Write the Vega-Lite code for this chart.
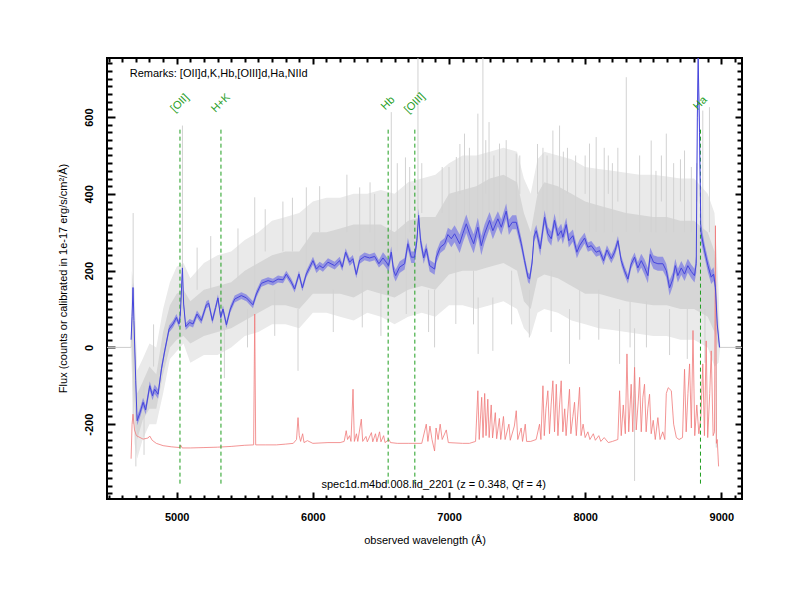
{
  "$schema": "https://vega.github.io/schema/vega-lite/v6.json",
  "width": 635,
  "height": 441,
  "autosize": {"type": "none"},
  "padding": {"left": 107, "top": 58, "right": 58, "bottom": 101},
  "background": "white",
  "config": {
    "font": "Liberation Sans",
    "view": {"stroke": "black", "strokeWidth": 2},
    "axis": {"domain": false, "grid": false, "zindex": 1, "ticks": true, "tickColor": "black", "tickWidth": 2, "tickOpacity": 1, "labelColor": "black", "titleColor": "black", "labelFont": "Liberation Sans", "titleFont": "Liberation Sans", "labelFlush": false, "labelOverlap": false}
  },
  "datasets": {
    "blue": [
      {"wl": 4665, "flux": 20, "err": 10}, {"wl": 4672, "flux": 80, "err": 12}, {"wl": 4679, "flux": 156, "err": 12},
      {"wl": 4686, "flux": 70, "err": 12}, {"wl": 4699, "flux": -87, "err": 12}, {"wl": 4709, "flux": -191, "err": 12},
      {"wl": 4728, "flux": -173, "err": 12}, {"wl": 4753, "flux": -143, "err": 12}, {"wl": 4772, "flux": -163, "err": 12},
      {"wl": 4802, "flux": -100, "err": 12}, {"wl": 4822, "flux": -126, "err": 12}, {"wl": 4838, "flux": -109, "err": 12},
      {"wl": 4863, "flux": -122, "err": 12}, {"wl": 4888, "flux": -56, "err": 10}, {"wl": 4912, "flux": -9, "err": 9},
      {"wl": 4944, "flux": 48, "err": 9}, {"wl": 4973, "flux": 61, "err": 9}, {"wl": 4998, "flux": 78, "err": 9},
      {"wl": 5017, "flux": 61, "err": 9}, {"wl": 5027, "flux": 87, "err": 9}, {"wl": 5042, "flux": 207, "err": 11},
      {"wl": 5051, "flux": 113, "err": 9}, {"wl": 5066, "flux": 54, "err": 9}, {"wl": 5095, "flux": 65, "err": 9},
      {"wl": 5120, "flux": 61, "err": 9}, {"wl": 5149, "flux": 87, "err": 9}, {"wl": 5181, "flux": 70, "err": 9},
      {"wl": 5218, "flux": 111, "err": 9}, {"wl": 5235, "flux": 115, "err": 9}, {"wl": 5262, "flux": 70, "err": 9},
      {"wl": 5286, "flux": 104, "err": 9}, {"wl": 5303, "flux": 129, "err": 9}, {"wl": 5323, "flux": 78, "err": 9},
      {"wl": 5340, "flux": 100, "err": 9}, {"wl": 5365, "flux": 59, "err": 9}, {"wl": 5394, "flux": 100, "err": 9},
      {"wl": 5426, "flux": 126, "err": 9}, {"wl": 5475, "flux": 135, "err": 9}, {"wl": 5512, "flux": 129, "err": 9},
      {"wl": 5560, "flux": 111, "err": 9}, {"wl": 5585, "flux": 139, "err": 9}, {"wl": 5622, "flux": 167, "err": 9},
      {"wl": 5671, "flux": 174, "err": 9}, {"wl": 5707, "flux": 170, "err": 9}, {"wl": 5744, "flux": 178, "err": 9},
      {"wl": 5781, "flux": 176, "err": 9}, {"wl": 5805, "flux": 191, "err": 9}, {"wl": 5842, "flux": 170, "err": 9},
      {"wl": 5866, "flux": 152, "err": 9}, {"wl": 5898, "flux": 191, "err": 9}, {"wl": 5923, "flux": 155, "err": 9},
      {"wl": 5952, "flux": 191, "err": 9}, {"wl": 6001, "flux": 226, "err": 10}, {"wl": 6026, "flux": 204, "err": 10},
      {"wl": 6050, "flux": 213, "err": 10}, {"wl": 6074, "flux": 207, "err": 10}, {"wl": 6111, "flux": 222, "err": 10},
      {"wl": 6160, "flux": 213, "err": 10}, {"wl": 6197, "flux": 226, "err": 10}, {"wl": 6216, "flux": 209, "err": 10},
      {"wl": 6241, "flux": 248, "err": 10}, {"wl": 6270, "flux": 222, "err": 10}, {"wl": 6294, "flux": 231, "err": 10},
      {"wl": 6319, "flux": 190, "err": 10}, {"wl": 6344, "flux": 228, "err": 10}, {"wl": 6380, "flux": 237, "err": 10},
      {"wl": 6417, "flux": 233, "err": 10}, {"wl": 6454, "flux": 237, "err": 10}, {"wl": 6485, "flux": 218, "err": 10},
      {"wl": 6515, "flux": 233, "err": 15}, {"wl": 6539, "flux": 222, "err": 15}, {"wl": 6556, "flux": 213, "err": 15},
      {"wl": 6576, "flux": 248, "err": 15}, {"wl": 6593, "flux": 200, "err": 15}, {"wl": 6608, "flux": 187, "err": 15},
      {"wl": 6637, "flux": 209, "err": 15}, {"wl": 6674, "flux": 218, "err": 15}, {"wl": 6698, "flux": 270, "err": 15},
      {"wl": 6723, "flux": 235, "err": 15}, {"wl": 6747, "flux": 235, "err": 15}, {"wl": 6764, "flux": 278, "err": 15},
      {"wl": 6777, "flux": 344, "err": 17}, {"wl": 6791, "flux": 278, "err": 15}, {"wl": 6814, "flux": 233, "err": 15},
      {"wl": 6833, "flux": 257, "err": 15}, {"wl": 6858, "flux": 213, "err": 15}, {"wl": 6894, "flux": 204, "err": 15},
      {"wl": 6907, "flux": 235, "err": 15}, {"wl": 6936, "flux": 261, "err": 15}, {"wl": 6968, "flux": 270, "err": 15},
      {"wl": 6992, "flux": 294, "err": 18}, {"wl": 7017, "flux": 283, "err": 22}, {"wl": 7041, "flux": 296, "err": 22},
      {"wl": 7078, "flux": 270, "err": 24}, {"wl": 7102, "flux": 297, "err": 24}, {"wl": 7127, "flux": 322, "err": 24},
      {"wl": 7151, "flux": 296, "err": 24}, {"wl": 7181, "flux": 270, "err": 25}, {"wl": 7212, "flux": 313, "err": 25},
      {"wl": 7237, "flux": 265, "err": 25}, {"wl": 7261, "flux": 296, "err": 24}, {"wl": 7298, "flux": 331, "err": 22},
      {"wl": 7322, "flux": 304, "err": 22}, {"wl": 7359, "flux": 335, "err": 20}, {"wl": 7384, "flux": 313, "err": 20},
      {"wl": 7420, "flux": 355, "err": 20}, {"wl": 7440, "flux": 313, "err": 20}, {"wl": 7465, "flux": 326, "err": 18},
      {"wl": 7494, "flux": 326, "err": 18}, {"wl": 7531, "flux": 270, "err": 15}, {"wl": 7555, "flux": 226, "err": 13},
      {"wl": 7580, "flux": 183, "err": 13}, {"wl": 7592, "flux": 178, "err": 13}, {"wl": 7610, "flux": 220, "err": 13},
      {"wl": 7625, "flux": 290, "err": 14}, {"wl": 7641, "flux": 304, "err": 15}, {"wl": 7670, "flux": 257, "err": 18},
      {"wl": 7702, "flux": 339, "err": 18}, {"wl": 7726, "flux": 296, "err": 18}, {"wl": 7751, "flux": 283, "err": 18},
      {"wl": 7775, "flux": 331, "err": 18}, {"wl": 7800, "flux": 291, "err": 18}, {"wl": 7824, "flux": 304, "err": 18},
      {"wl": 7836, "flux": 287, "err": 18}, {"wl": 7861, "flux": 320, "err": 18}, {"wl": 7880, "flux": 278, "err": 18},
      {"wl": 7910, "flux": 291, "err": 16}, {"wl": 7939, "flux": 248, "err": 16}, {"wl": 7959, "flux": 265, "err": 16},
      {"wl": 7996, "flux": 285, "err": 14}, {"wl": 8020, "flux": 261, "err": 12}, {"wl": 8045, "flux": 265, "err": 12},
      {"wl": 8081, "flux": 248, "err": 12}, {"wl": 8106, "flux": 252, "err": 12}, {"wl": 8135, "flux": 226, "err": 12},
      {"wl": 8160, "flux": 254, "err": 12}, {"wl": 8192, "flux": 231, "err": 12}, {"wl": 8216, "flux": 248, "err": 12},
      {"wl": 8241, "flux": 278, "err": 12}, {"wl": 8265, "flux": 226, "err": 12}, {"wl": 8289, "flux": 200, "err": 12},
      {"wl": 8314, "flux": 178, "err": 12}, {"wl": 8338, "flux": 217, "err": 12}, {"wl": 8363, "flux": 235, "err": 12},
      {"wl": 8387, "flux": 207, "err": 15}, {"wl": 8412, "flux": 226, "err": 18}, {"wl": 8436, "flux": 209, "err": 20},
      {"wl": 8461, "flux": 187, "err": 20}, {"wl": 8478, "flux": 242, "err": 18}, {"wl": 8502, "flux": 222, "err": 18},
      {"wl": 8534, "flux": 218, "err": 18}, {"wl": 8571, "flux": 218, "err": 18}, {"wl": 8596, "flux": 200, "err": 18},
      {"wl": 8620, "flux": 155, "err": 20}, {"wl": 8644, "flux": 178, "err": 18}, {"wl": 8662, "flux": 213, "err": 18},
      {"wl": 8681, "flux": 187, "err": 18}, {"wl": 8706, "flux": 207, "err": 18}, {"wl": 8730, "flux": 191, "err": 18},
      {"wl": 8754, "flux": 213, "err": 18}, {"wl": 8779, "flux": 198, "err": 18}, {"wl": 8803, "flux": 187, "err": 18},
      {"wl": 8816, "flux": 218, "err": 24}, {"wl": 8824, "flux": 600, "err": 60}, {"wl": 8830, "flux": 800, "err": 70},
      {"wl": 8840, "flux": 560, "err": 60}, {"wl": 8850, "flux": 300, "err": 24}, {"wl": 8877, "flux": 252, "err": 18},
      {"wl": 8902, "flux": 213, "err": 18}, {"wl": 8926, "flux": 183, "err": 18}, {"wl": 8943, "flux": 191, "err": 18},
      {"wl": 8957, "flux": 157, "err": 18}, {"wl": 8970, "flux": 61, "err": 10}, {"wl": 8987, "flux": 0, "err": 4}
    ],
    "grey": [
      {"wl": 4662, "o1": 0, "c1": 0, "c2": 0, "o2": 0},
      {"wl": 4670, "o1": -60, "c1": 0, "c2": 100, "o2": 200},
      {"wl": 4690, "o1": -250, "c1": -150, "c2": 50, "o2": 150},
      {"wl": 4710, "o1": -290, "c1": -240, "c2": -120, "o2": -60},
      {"wl": 4750, "o1": -240, "c1": -190, "c2": -90, "o2": -30},
      {"wl": 4800, "o1": -200, "c1": -160, "c2": -50, "o2": 10},
      {"wl": 4850, "o1": -200, "c1": -160, "c2": -70, "o2": 0},
      {"wl": 4900, "o1": -120, "c1": -70, "c2": 40, "o2": 100},
      {"wl": 4950, "o1": -30, "c1": 0, "c2": 110, "o2": 170},
      {"wl": 5000, "o1": -10, "c1": 20, "c2": 140, "o2": 210},
      {"wl": 5050, "o1": 10, "c1": 30, "c2": 150, "o2": 220},
      {"wl": 5100, "o1": -40, "c1": 10, "c2": 120, "o2": 180},
      {"wl": 5200, "o1": -20, "c1": 30, "c2": 150, "o2": 220},
      {"wl": 5300, "o1": -20, "c1": 40, "c2": 160, "o2": 240},
      {"wl": 5400, "o1": 0, "c1": 50, "c2": 170, "o2": 250},
      {"wl": 5500, "o1": 30, "c1": 70, "c2": 200, "o2": 280},
      {"wl": 5600, "o1": 40, "c1": 90, "c2": 220, "o2": 300},
      {"wl": 5700, "o1": 60, "c1": 110, "c2": 240, "o2": 330},
      {"wl": 5800, "o1": 60, "c1": 110, "c2": 250, "o2": 340},
      {"wl": 5900, "o1": 50, "c1": 100, "c2": 250, "o2": 350},
      {"wl": 6000, "o1": 90, "c1": 140, "c2": 300, "o2": 380},
      {"wl": 6100, "o1": 90, "c1": 140, "c2": 300, "o2": 390},
      {"wl": 6200, "o1": 80, "c1": 140, "c2": 310, "o2": 390},
      {"wl": 6300, "o1": 70, "c1": 130, "c2": 320, "o2": 400},
      {"wl": 6400, "o1": 90, "c1": 150, "c2": 320, "o2": 400},
      {"wl": 6500, "o1": 80, "c1": 140, "c2": 320, "o2": 410},
      {"wl": 6600, "o1": 60, "c1": 130, "c2": 300, "o2": 400},
      {"wl": 6700, "o1": 80, "c1": 150, "c2": 330, "o2": 430},
      {"wl": 6800, "o1": 90, "c1": 160, "c2": 340, "o2": 440},
      {"wl": 6900, "o1": 80, "c1": 150, "c2": 340, "o2": 450},
      {"wl": 7000, "o1": 110, "c1": 190, "c2": 400, "o2": 480},
      {"wl": 7100, "o1": 110, "c1": 200, "c2": 410, "o2": 500},
      {"wl": 7200, "o1": 100, "c1": 200, "c2": 420, "o2": 500},
      {"wl": 7300, "o1": 110, "c1": 210, "c2": 440, "o2": 510},
      {"wl": 7400, "o1": 120, "c1": 220, "c2": 450, "o2": 520},
      {"wl": 7500, "o1": 100, "c1": 200, "c2": 430, "o2": 510},
      {"wl": 7550, "o1": 50, "c1": 120, "c2": 350, "o2": 440},
      {"wl": 7600, "o1": 30, "c1": 100, "c2": 300, "o2": 400},
      {"wl": 7650, "o1": 90, "c1": 180, "c2": 400, "o2": 490},
      {"wl": 7700, "o1": 100, "c1": 190, "c2": 430, "o2": 510},
      {"wl": 7800, "o1": 90, "c1": 180, "c2": 420, "o2": 500},
      {"wl": 7900, "o1": 70, "c1": 160, "c2": 400, "o2": 490},
      {"wl": 8000, "o1": 60, "c1": 140, "c2": 380, "o2": 470},
      {"wl": 8100, "o1": 50, "c1": 140, "c2": 370, "o2": 465},
      {"wl": 8200, "o1": 45, "c1": 130, "c2": 360, "o2": 460},
      {"wl": 8300, "o1": 40, "c1": 120, "c2": 350, "o2": 455},
      {"wl": 8400, "o1": 35, "c1": 115, "c2": 345, "o2": 450},
      {"wl": 8500, "o1": 30, "c1": 110, "c2": 340, "o2": 450},
      {"wl": 8600, "o1": 30, "c1": 110, "c2": 340, "o2": 445},
      {"wl": 8700, "o1": 20, "c1": 100, "c2": 330, "o2": 440},
      {"wl": 8800, "o1": 20, "c1": 100, "c2": 330, "o2": 440},
      {"wl": 8900, "o1": 0, "c1": 80, "c2": 300, "o2": 400},
      {"wl": 8950, "o1": -50, "c1": 40, "c2": 250, "o2": 350},
      {"wl": 8980, "o1": -40, "c1": 0, "c2": 60, "o2": 150},
      {"wl": 8992, "o1": 0, "c1": 0, "c2": 0, "o2": 0}
    ],
    "spikes": [
      {"wl": 4680, "y1": -200, "y2": 350}, {"wl": 4700, "y1": -310, "y2": -150}, {"wl": 4760, "y1": -280, "y2": -100},
      {"wl": 4830, "y1": -50, "y2": 60}, {"wl": 5042, "y1": 100, "y2": 578}, {"wl": 5150, "y1": 150, "y2": 260},
      {"wl": 5250, "y1": 150, "y2": 290}, {"wl": 5350, "y1": -80, "y2": 50}, {"wl": 5450, "y1": 180, "y2": 310},
      {"wl": 5520, "y1": 0, "y2": 100}, {"wl": 5573, "y1": 150, "y2": 391}, {"wl": 5650, "y1": 250, "y2": 360},
      {"wl": 5720, "y1": 30, "y2": 150}, {"wl": 5780, "y1": 250, "y2": 380}, {"wl": 5850, "y1": 250, "y2": 390},
      {"wl": 5891, "y1": -61, "y2": 100}, {"wl": 5952, "y1": 200, "y2": 417}, {"wl": 6050, "y1": 300, "y2": 420},
      {"wl": 6150, "y1": 40, "y2": 150}, {"wl": 6250, "y1": 300, "y2": 450}, {"wl": 6344, "y1": 250, "y2": 417},
      {"wl": 6363, "y1": 52, "y2": 200}, {"wl": 6420, "y1": 300, "y2": 430}, {"wl": 6454, "y1": 250, "y2": 400},
      {"wl": 6500, "y1": 30, "y2": 150}, {"wl": 6576, "y1": 250, "y2": 613}, {"wl": 6620, "y1": 250, "y2": 480},
      {"wl": 6680, "y1": 250, "y2": 495}, {"wl": 6686, "y1": 87, "y2": 250}, {"wl": 6711, "y1": 300, "y2": 470},
      {"wl": 6772, "y1": 300, "y2": 754}, {"wl": 6800, "y1": 350, "y2": 480}, {"wl": 6850, "y1": 40, "y2": 150},
      {"wl": 6894, "y1": 0, "y2": 150}, {"wl": 6950, "y1": 350, "y2": 470}, {"wl": 7000, "y1": 300, "y2": 470},
      {"wl": 7050, "y1": 61, "y2": 250}, {"wl": 7054, "y1": 300, "y2": 496}, {"wl": 7080, "y1": 400, "y2": 530},
      {"wl": 7114, "y1": 300, "y2": 557}, {"wl": 7150, "y1": 300, "y2": 520}, {"wl": 7180, "y1": 60, "y2": 200},
      {"wl": 7212, "y1": 300, "y2": 609}, {"wl": 7214, "y1": -17, "y2": 130}, {"wl": 7249, "y1": 300, "y2": 754},
      {"wl": 7270, "y1": 400, "y2": 540}, {"wl": 7294, "y1": 300, "y2": 587}, {"wl": 7322, "y1": -9, "y2": 130},
      {"wl": 7330, "y1": 300, "y2": 500}, {"wl": 7371, "y1": 300, "y2": 531}, {"wl": 7420, "y1": 300, "y2": 540},
      {"wl": 7460, "y1": 60, "y2": 200}, {"wl": 7494, "y1": 300, "y2": 505}, {"wl": 7520, "y1": 400, "y2": 500},
      {"wl": 7590, "y1": 26, "y2": 150}, {"wl": 7650, "y1": 400, "y2": 530}, {"wl": 7690, "y1": 300, "y2": 520},
      {"wl": 7720, "y1": 300, "y2": 500}, {"wl": 7750, "y1": 40, "y2": 200}, {"wl": 7763, "y1": 300, "y2": 565},
      {"wl": 7812, "y1": 300, "y2": 578}, {"wl": 7840, "y1": 300, "y2": 510}, {"wl": 7870, "y1": 400, "y2": 520},
      {"wl": 7885, "y1": -43, "y2": 100}, {"wl": 7930, "y1": 300, "y2": 500}, {"wl": 7960, "y1": 20, "y2": 150},
      {"wl": 8000, "y1": 400, "y2": 500}, {"wl": 8032, "y1": 300, "y2": 531}, {"wl": 8081, "y1": 300, "y2": 548},
      {"wl": 8100, "y1": 20, "y2": 150}, {"wl": 8140, "y1": 300, "y2": 520}, {"wl": 8170, "y1": 400, "y2": 500},
      {"wl": 8200, "y1": 300, "y2": 480}, {"wl": 8240, "y1": 380, "y2": 520}, {"wl": 8253, "y1": -43, "y2": 100},
      {"wl": 8302, "y1": 300, "y2": 704}, {"wl": 8330, "y1": 0, "y2": 120}, {"wl": 8363, "y1": -348, "y2": 50},
      {"wl": 8400, "y1": 300, "y2": 500}, {"wl": 8450, "y1": 0, "y2": 120}, {"wl": 8485, "y1": 300, "y2": 539},
      {"wl": 8520, "y1": 300, "y2": 460}, {"wl": 8560, "y1": 380, "y2": 500}, {"wl": 8596, "y1": 300, "y2": 557},
      {"wl": 8620, "y1": -20, "y2": 100}, {"wl": 8650, "y1": 300, "y2": 480}, {"wl": 8700, "y1": 380, "y2": 490},
      {"wl": 8730, "y1": 300, "y2": 513}, {"wl": 8750, "y1": -30, "y2": 100}, {"wl": 8780, "y1": 300, "y2": 470},
      {"wl": 8820, "y1": 380, "y2": 480}, {"wl": 8864, "y1": 300, "y2": 617}, {"wl": 8880, "y1": -40, "y2": 100},
      {"wl": 8913, "y1": 300, "y2": 626}, {"wl": 8963, "y1": -261, "y2": 100}
    ],
    "zero": [
      {"wl": 4488, "wl2": 4664},
      {"wl": 8988, "wl2": 9152}
    ],
    "red": [
      {"wl": 4665, "f": -290}, {"wl": 4672, "f": -200}, {"wl": 4679, "f": -174}, {"wl": 4690, "f": -215},
      {"wl": 4704, "f": -230}, {"wl": 4753, "f": -239}, {"wl": 4790, "f": -236}, {"wl": 4802, "f": -231},
      {"wl": 4820, "f": -242}, {"wl": 4850, "f": -250}, {"wl": 4900, "f": -256}, {"wl": 4960, "f": -259},
      {"wl": 5022, "f": -261}, {"wl": 5030, "f": -255}, {"wl": 5040, "f": -262}, {"wl": 5100, "f": -262},
      {"wl": 5200, "f": -261}, {"wl": 5300, "f": -260}, {"wl": 5400, "f": -258}, {"wl": 5500, "f": -255},
      {"wl": 5565, "f": -254}, {"wl": 5573, "f": 87}, {"wl": 5580, "f": -254}, {"wl": 5650, "f": -254},
      {"wl": 5732, "f": -254}, {"wl": 5800, "f": -252}, {"wl": 5856, "f": -250}, {"wl": 5880, "f": -240},
      {"wl": 5891, "f": -183}, {"wl": 5900, "f": -230}, {"wl": 5910, "f": -245}, {"wl": 5925, "f": -225},
      {"wl": 5935, "f": -248}, {"wl": 5960, "f": -243}, {"wl": 6000, "f": -250}, {"wl": 6111, "f": -248},
      {"wl": 6200, "f": -248}, {"wl": 6230, "f": -245}, {"wl": 6245, "f": -217}, {"wl": 6255, "f": -240},
      {"wl": 6270, "f": -230}, {"wl": 6280, "f": -245}, {"wl": 6295, "f": -109}, {"wl": 6305, "f": -245},
      {"wl": 6320, "f": -225}, {"wl": 6330, "f": -245}, {"wl": 6356, "f": -187}, {"wl": 6366, "f": -245},
      {"wl": 6390, "f": -232}, {"wl": 6400, "f": -246}, {"wl": 6430, "f": -222}, {"wl": 6440, "f": -246},
      {"wl": 6460, "f": -225}, {"wl": 6470, "f": -246}, {"wl": 6490, "f": -220}, {"wl": 6500, "f": -246},
      {"wl": 6520, "f": -230}, {"wl": 6530, "f": -248}, {"wl": 6560, "f": -240}, {"wl": 6570, "f": -248},
      {"wl": 6620, "f": -250}, {"wl": 6700, "f": -250}, {"wl": 6800, "f": -250}, {"wl": 6833, "f": -200},
      {"wl": 6845, "f": -245}, {"wl": 6860, "f": -205}, {"wl": 6875, "f": -240}, {"wl": 6894, "f": -270},
      {"wl": 6905, "f": -210}, {"wl": 6920, "f": -240}, {"wl": 6935, "f": -200}, {"wl": 6950, "f": -240},
      {"wl": 6980, "f": -215}, {"wl": 6995, "f": -248}, {"wl": 7100, "f": -250}, {"wl": 7150, "f": -250},
      {"wl": 7195, "f": -245}, {"wl": 7212, "f": -113}, {"wl": 7222, "f": -240}, {"wl": 7240, "f": -130},
      {"wl": 7250, "f": -235}, {"wl": 7262, "f": -120}, {"wl": 7272, "f": -230}, {"wl": 7285, "f": -135},
      {"wl": 7295, "f": -235}, {"wl": 7310, "f": -150}, {"wl": 7320, "f": -236}, {"wl": 7340, "f": -170},
      {"wl": 7350, "f": -238}, {"wl": 7370, "f": -185}, {"wl": 7380, "f": -240}, {"wl": 7400, "f": -180},
      {"wl": 7412, "f": -240}, {"wl": 7440, "f": -200}, {"wl": 7450, "f": -242}, {"wl": 7480, "f": -205},
      {"wl": 7494, "f": -165}, {"wl": 7505, "f": -240}, {"wl": 7530, "f": -210}, {"wl": 7540, "f": -245},
      {"wl": 7560, "f": -200}, {"wl": 7570, "f": -245}, {"wl": 7600, "f": -245}, {"wl": 7640, "f": -240},
      {"wl": 7665, "f": -200}, {"wl": 7675, "f": -240}, {"wl": 7690, "f": -100}, {"wl": 7700, "f": -230},
      {"wl": 7712, "f": -160}, {"wl": 7726, "f": -113}, {"wl": 7738, "f": -225}, {"wl": 7750, "f": -150},
      {"wl": 7763, "f": -87}, {"wl": 7775, "f": -220}, {"wl": 7788, "f": -96}, {"wl": 7800, "f": -230},
      {"wl": 7812, "f": -150}, {"wl": 7824, "f": -87}, {"wl": 7836, "f": -220}, {"wl": 7850, "f": -160},
      {"wl": 7860, "f": -230}, {"wl": 7885, "f": -109}, {"wl": 7895, "f": -225}, {"wl": 7910, "f": -180},
      {"wl": 7922, "f": -143}, {"wl": 7935, "f": -230}, {"wl": 7959, "f": -104}, {"wl": 7970, "f": -230},
      {"wl": 7985, "f": -200}, {"wl": 8000, "f": -235}, {"wl": 8020, "f": -220}, {"wl": 8035, "f": -240},
      {"wl": 8060, "f": -225}, {"wl": 8075, "f": -242}, {"wl": 8100, "f": -230}, {"wl": 8115, "f": -245},
      {"wl": 8140, "f": -235}, {"wl": 8170, "f": -248}, {"wl": 8200, "f": -245}, {"wl": 8240, "f": -240},
      {"wl": 8253, "f": -113}, {"wl": 8265, "f": -230}, {"wl": 8280, "f": -150}, {"wl": 8295, "f": -225},
      {"wl": 8307, "f": -17}, {"wl": 8320, "f": -220}, {"wl": 8338, "f": -96}, {"wl": 8350, "f": -220},
      {"wl": 8363, "f": -52}, {"wl": 8375, "f": -215}, {"wl": 8390, "f": -140}, {"wl": 8400, "f": -78},
      {"wl": 8412, "f": -220}, {"wl": 8424, "f": -130}, {"wl": 8436, "f": -96}, {"wl": 8448, "f": -220},
      {"wl": 8460, "f": -160}, {"wl": 8473, "f": -122}, {"wl": 8485, "f": -225}, {"wl": 8500, "f": -190},
      {"wl": 8515, "f": -240}, {"wl": 8534, "f": -183}, {"wl": 8550, "f": -240}, {"wl": 8570, "f": -220},
      {"wl": 8585, "f": -240}, {"wl": 8596, "f": -120}, {"wl": 8610, "f": -105}, {"wl": 8633, "f": -113},
      {"wl": 8650, "f": -200}, {"wl": 8670, "f": -235}, {"wl": 8690, "f": -240}, {"wl": 8715, "f": -235},
      {"wl": 8730, "f": -57}, {"wl": 8742, "f": -220}, {"wl": 8755, "f": -120}, {"wl": 8767, "f": -43},
      {"wl": 8780, "f": -210}, {"wl": 8792, "f": 44}, {"wl": 8805, "f": -230}, {"wl": 8820, "f": -150},
      {"wl": 8835, "f": -225}, {"wl": 8850, "f": -180}, {"wl": 8864, "f": -43}, {"wl": 8876, "f": -230},
      {"wl": 8889, "f": 17}, {"wl": 8900, "f": -235}, {"wl": 8915, "f": -120}, {"wl": 8926, "f": -9},
      {"wl": 8940, "f": -230}, {"wl": 8950, "f": -220}, {"wl": 8957, "f": 317}, {"wl": 8964, "f": -250},
      {"wl": 8970, "f": -240}, {"wl": 8980, "f": -310}
    ],
    "lines": [
      {"wl": 5024, "label": "[OII]"},
      {"wl": 5325, "label": "H+K"},
      {"wl": 6553, "label": "Hb"},
      {"wl": 6749, "label": "[OIII]"},
      {"wl": 8847, "label": "Ha"}
    ]
  },
  "resolve": {"axis": {"x": "independent", "y": "independent"}},
  "layer": [
    {
      "data": {"name": "grey"},
      "mark": {"type": "area", "color": "#eaeaea", "clip": true},
      "encoding": {
        "x": {"field": "wl", "type": "quantitative",
          "scale": {"domain": [4488, 9152], "nice": false, "zero": false},
          "axis": {"orient": "bottom", "values": [5000, 6000, 7000, 8000, 9000], "tickSize": -7, "labelPadding": 19,
            "labelFontSize": 11, "labelFontWeight": "bold", "labelExpr": "'' + datum.value",
            "title": "observed wavelength (Å)", "titleFontSize": 11, "titleFontWeight": "normal",
            "titleX": 317.5, "titleY": 41, "titleAlign": "center", "titleBaseline": "middle"}},
        "y": {"field": "o1", "type": "quantitative",
          "scale": {"domain": [-395, 754], "nice": false, "zero": false, "clamp": true},
          "axis": {"orient": "left", "values": [-200, 0, 200, 400, 600], "tickSize": -8, "labelPadding": 21,
            "labelAngle": -90, "labelAlign": "center", "labelBaseline": "bottom",
            "labelFontSize": 11, "labelFontWeight": "bold", "labelExpr": "'' + datum.value",
            "title": "Flux (counts or calibrated in 1e-17 erg/s/cm²/Å)", "titleFontSize": 11, "titleFontWeight": "normal",
            "titleX": -44, "titleY": 220, "titleAngle": -90, "titleAlign": "center", "titleBaseline": "middle"}},
        "y2": {"field": "o2"}
      }
    },
    {
      "data": {"name": "grey"},
      "mark": {"type": "area", "color": "#d6d6d6", "clip": true},
      "encoding": {
        "x": {"field": "wl", "type": "quantitative",
          "scale": {"domain": [4488, 9152], "nice": false, "zero": false},
          "axis": {"orient": "top", "values": [5000, 6000, 7000, 8000, 9000], "tickSize": -6, "labels": false, "title": null}},
        "y": {"field": "c1", "type": "quantitative",
          "scale": {"domain": [-395, 754], "nice": false, "zero": false, "clamp": true},
          "axis": {"orient": "right", "values": [-200, 0, 200, 400, 600], "tickSize": -7, "labels": false, "title": null}},
        "y2": {"field": "c2"}
      }
    },
    {
      "data": {"name": "spikes"},
      "mark": {"type": "rule", "color": "#d2d2d2", "strokeWidth": 1, "clip": true},
      "encoding": {
        "x": {"field": "wl", "type": "quantitative",
          "scale": {"domain": [4488, 9152], "nice": false, "zero": false},
          "axis": {"orient": "bottom", "tickSize": -4, "labels": false, "title": null,
            "values": [4500, 4600, 4700, 4800, 4900, 5100, 5200, 5300, 5400, 5500, 5600, 5700, 5800, 5900, 6100, 6200, 6300, 6400, 6500, 6600, 6700, 6800, 6900, 7100, 7200, 7300, 7400, 7500, 7600, 7700, 7800, 7900, 8100, 8200, 8300, 8400, 8500, 8600, 8700, 8800, 8900, 9100]}},
        "y": {"field": "y1", "type": "quantitative",
          "scale": {"domain": [-395, 754], "nice": false, "zero": false, "clamp": true},
          "axis": {"orient": "left", "tickSize": -5, "labels": false, "title": null,
            "values": [-380, -360, -340, -320, -300, -280, -260, -240, -220, -180, -160, -140, -120, -100, -80, -60, -40, -20, 20, 40, 60, 80, 100, 120, 140, 160, 180, 220, 240, 260, 280, 300, 320, 340, 360, 380, 420, 440, 460, 480, 500, 520, 540, 560, 580, 620, 640, 660, 680, 700, 720, 740]}},
        "y2": {"field": "y2"}
      }
    },
    {
      "data": {"name": "zero"},
      "mark": {"type": "rule", "color": "#cccccc", "strokeWidth": 1, "clip": true},
      "encoding": {
        "x": {"field": "wl", "type": "quantitative", "scale": {"domain": [4488, 9152], "nice": false, "zero": false}, "axis": null},
        "x2": {"field": "wl2"},
        "y": {"datum": 0, "type": "quantitative", "scale": {"domain": [-395, 754], "nice": false, "zero": false, "clamp": true}, "axis": null}
      }
    },
    {
      "data": {"name": "red"},
      "mark": {"type": "line", "color": "#f07a7a", "strokeWidth": 0.8, "clip": true},
      "encoding": {
        "x": {"field": "wl", "type": "quantitative",
          "scale": {"domain": [4488, 9152], "nice": false, "zero": false},
          "axis": {"orient": "top", "tickSize": -4, "labels": false, "title": null,
            "values": [4500, 4600, 4700, 4800, 4900, 5100, 5200, 5300, 5400, 5500, 5600, 5700, 5800, 5900, 6100, 6200, 6300, 6400, 6500, 6600, 6700, 6800, 6900, 7100, 7200, 7300, 7400, 7500, 7600, 7700, 7800, 7900, 8100, 8200, 8300, 8400, 8500, 8600, 8700, 8800, 8900, 9100]}},
        "y": {"field": "f", "type": "quantitative",
          "scale": {"domain": [-395, 754], "nice": false, "zero": false, "clamp": true},
          "axis": {"orient": "right", "tickSize": -5, "labels": false, "title": null,
            "values": [-380, -360, -340, -320, -300, -280, -260, -240, -220, -180, -160, -140, -120, -100, -80, -60, -40, -20, 20, 40, 60, 80, 100, 120, 140, 160, 180, 220, 240, 260, 280, 300, 320, 340, 360, 380, 420, 440, 460, 480, 500, 520, 540, 560, 580, 620, 640, 660, 680, 700, 720, 740]}}
      }
    },
    {
      "data": {"name": "lines"},
      "mark": {"type": "rule", "color": "#1f9e1f", "strokeWidth": 1, "strokeDash": [4, 3], "clip": true},
      "encoding": {
        "x": {"field": "wl", "type": "quantitative", "scale": {"domain": [4488, 9152], "nice": false, "zero": false}, "axis": null},
        "y": {"datum": -355, "type": "quantitative", "scale": {"domain": [-395, 754], "nice": false, "zero": false, "clamp": true}, "axis": null},
        "y2": {"datum": 570}
      }
    },
    {
      "data": {"name": "blue"},
      "mark": {"type": "errorband", "color": "#7070e6", "opacity": 0.65},
      "encoding": {
        "x": {"field": "wl", "type": "quantitative", "scale": {"domain": [4488, 9152], "nice": false, "zero": false}, "axis": null},
        "y": {"field": "flux", "type": "quantitative", "scale": {"domain": [-395, 754], "nice": false, "zero": false, "clamp": true}, "axis": null},
        "yError": {"field": "err"}
      }
    },
    {
      "data": {"name": "blue"},
      "mark": {"type": "line", "color": "#4646dc", "strokeWidth": 1, "clip": true},
      "encoding": {
        "x": {"field": "wl", "type": "quantitative", "scale": {"domain": [4488, 9152], "nice": false, "zero": false}, "axis": null},
        "y": {"field": "flux", "type": "quantitative", "scale": {"domain": [-395, 754], "nice": false, "zero": false, "clamp": true}, "axis": null}
      }
    },
    {
      "data": {"name": "lines"},
      "mark": {"type": "text", "color": "#1f9e1f", "fontSize": 11, "angle": 315, "align": "center", "baseline": "middle", "font": "Liberation Sans"},
      "encoding": {
        "x": {"field": "wl", "type": "quantitative", "scale": {"domain": [4488, 9152], "nice": false, "zero": false}, "axis": null},
        "y": {"datum": 636, "type": "quantitative", "scale": {"domain": [-395, 754], "nice": false, "zero": false, "clamp": true}, "axis": null},
        "text": {"field": "label"}
      }
    },
    {
      "data": {"values": [{"wl": 4655, "y": 713, "note": "Remarks: [OII]d,K,Hb,[OIII]d,Ha,NIId"}]},
      "mark": {"type": "text", "color": "black", "fontSize": 11, "align": "left", "baseline": "middle", "font": "Liberation Sans"},
      "encoding": {
        "x": {"field": "wl", "type": "quantitative", "scale": {"domain": [4488, 9152], "nice": false, "zero": false}, "axis": null},
        "y": {"field": "y", "type": "quantitative", "scale": {"domain": [-395, 754], "nice": false, "zero": false, "clamp": true}, "axis": null},
        "text": {"field": "note"}
      }
    },
    {
      "data": {"values": [{"wl": 6887, "y": -358, "note": "spec1d.m4bd.008.lid_2201 (z = 0.348, Qf = 4)"}]},
      "mark": {"type": "text", "color": "black", "fontSize": 11, "align": "center", "baseline": "middle", "font": "Liberation Sans"},
      "encoding": {
        "x": {"field": "wl", "type": "quantitative", "scale": {"domain": [4488, 9152], "nice": false, "zero": false}, "axis": null},
        "y": {"field": "y", "type": "quantitative", "scale": {"domain": [-395, 754], "nice": false, "zero": false, "clamp": true}, "axis": null},
        "text": {"field": "note"}
      }
    }
  ]
}
